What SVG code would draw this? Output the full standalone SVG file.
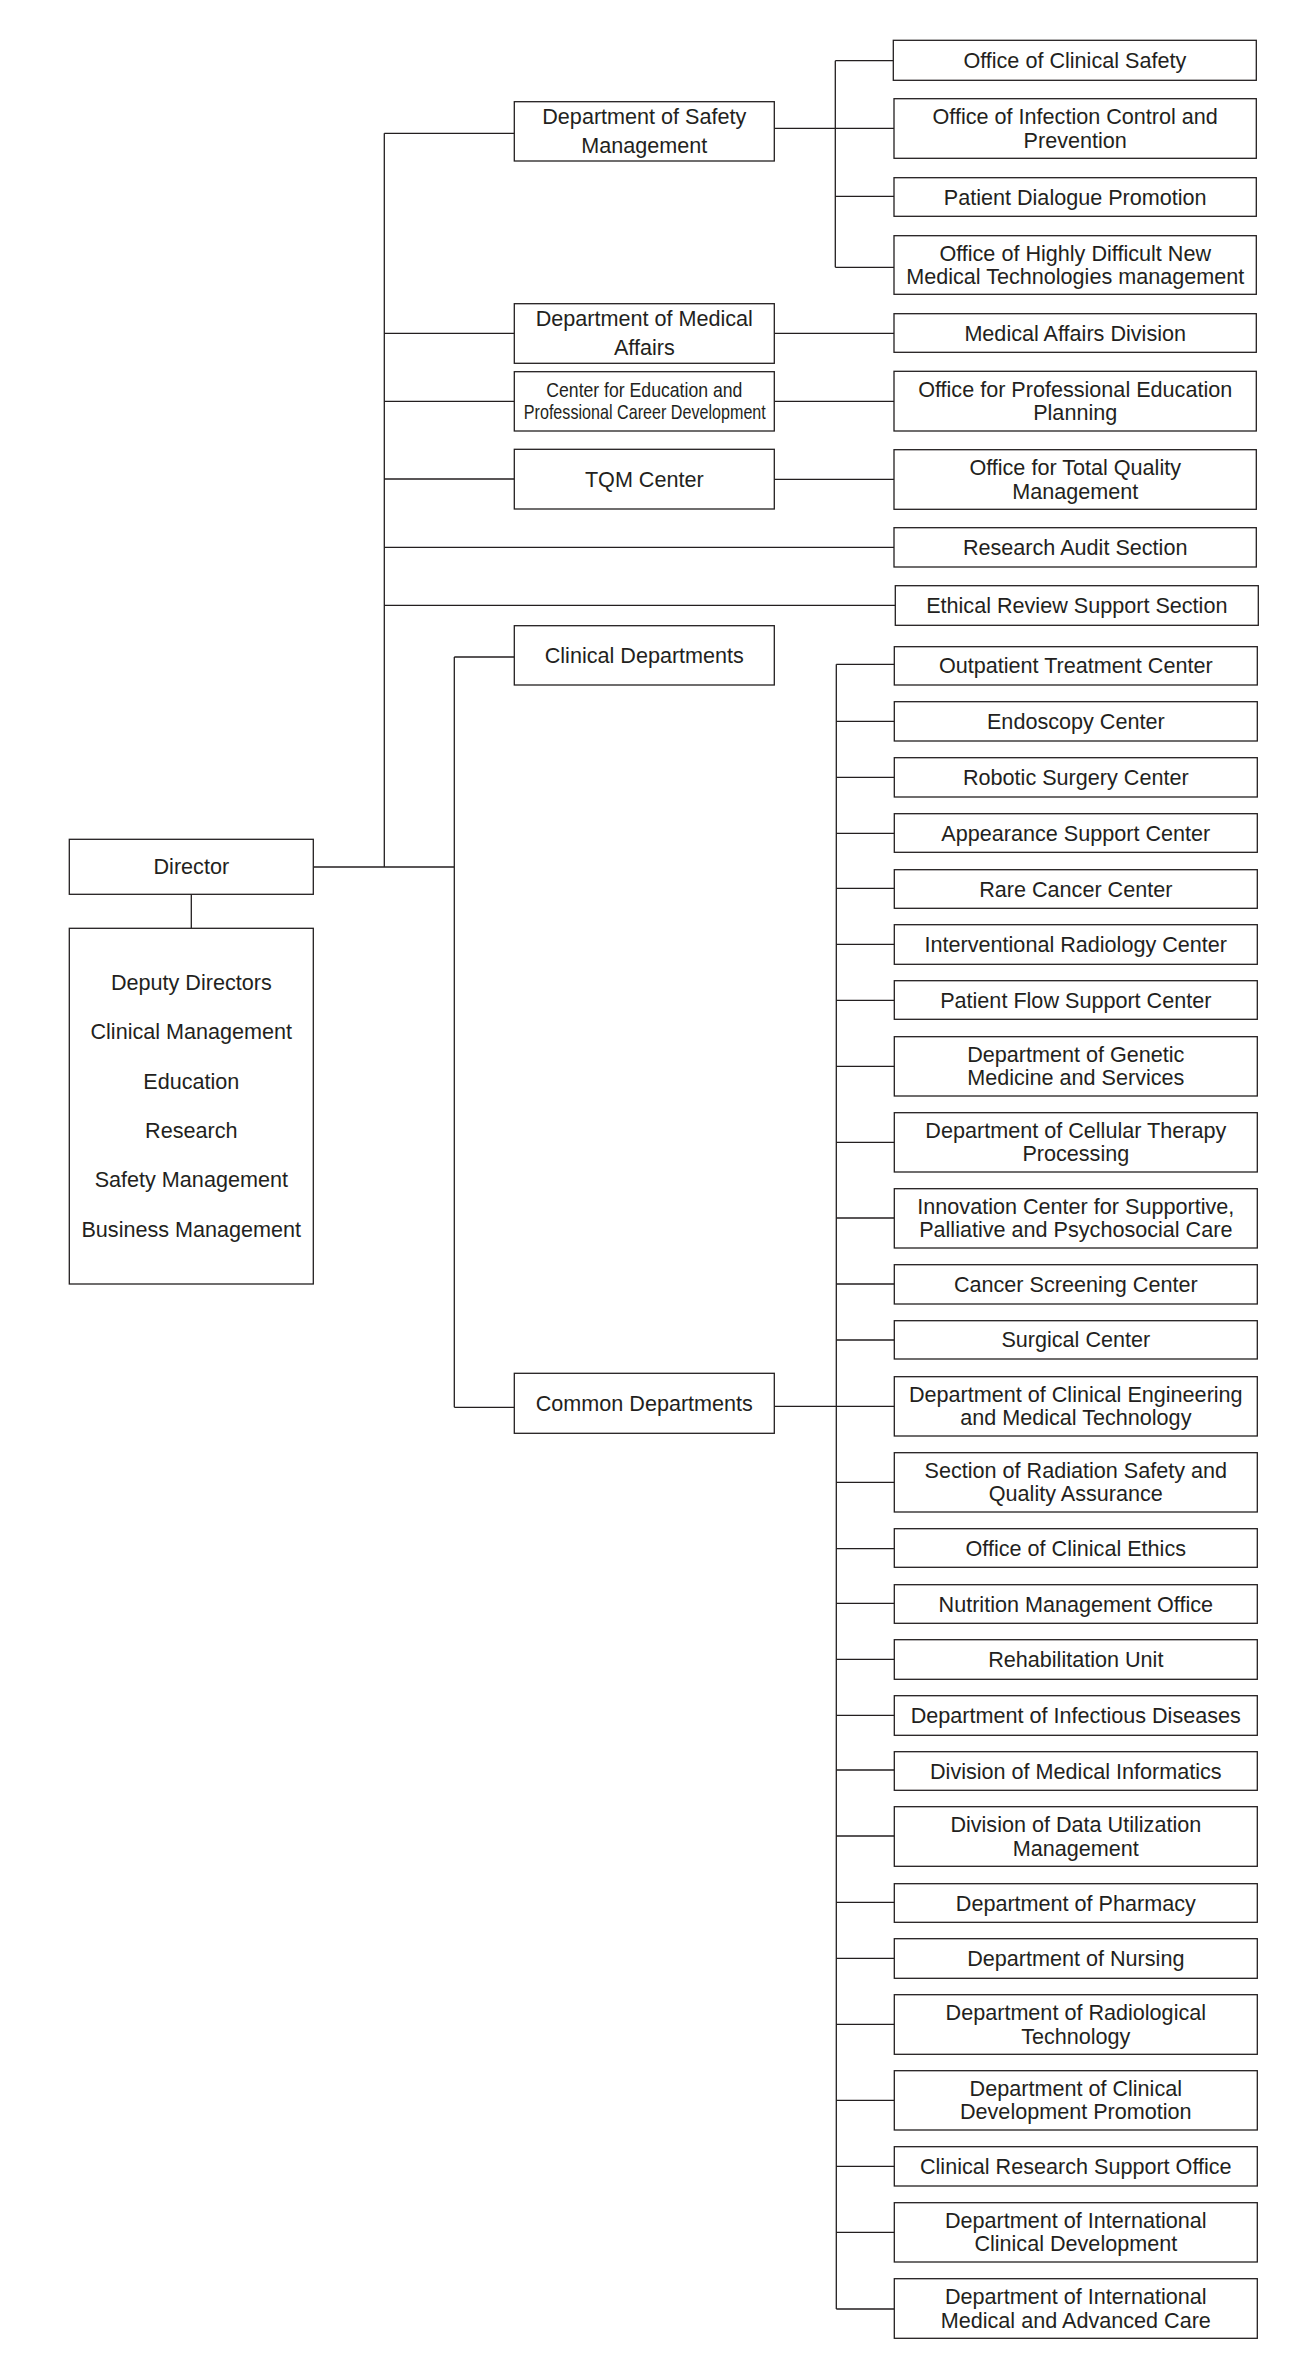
<svg xmlns="http://www.w3.org/2000/svg" width="1313" height="2375" viewBox="0 0 1313 2375">
<style>
.b{fill:#fff;stroke:#231f20;stroke-width:1.3}
.c{fill:none;stroke:#231f20;stroke-width:1.3}
text{font-family:"Liberation Sans",Arial,Helvetica,sans-serif;font-size:21.6px;fill:#231f20;text-anchor:middle}
.n{font-size:21px}
</style>
<rect width="1313" height="2375" fill="#fff"/>
<g id="connectors" class="c">
<path d="M384.3 133.3V867M384.3 133.3H514.3M384.3 333.3H514.3M384.3 401.3H514.3M384.3 479H514.3M384.3 547.3H894M384.3 605.3H895.3"/>
<path d="M313.3 867H454.3M454.3 657V1407.3M454.3 657H514.3M454.3 1407.3H514.3M191.3 894.3V928.3"/>
<path d="M774.3 128.3H835.3M835.3 60.7V267.3M835.3 60.7H893.3M835.3 128.3H894M835.3 196.3H894M835.3 267.3H894"/>
<path d="M774.3 333.3H894M774.3 401.3H894M774.3 479.3H894"/>
<path d="M774.3 1406.3H836.3M836.3 664.3V2309"/>
<path d="M836.3 664.3H894M836.3 721.3H894M836.3 777.3H894M836.3 833.3H894M836.3 888.3H894M836.3 944.3H894M836.3 1000.3H894M836.3 1066.3H894M836.3 1142.3H894M836.3 1218H894M836.3 1284H894M836.3 1340H894M836.3 1406.3H894M836.3 1482.3H894M836.3 1548.7H894M836.3 1603.3H894M836.3 1659.3H894M836.3 1715.3H894M836.3 1770H894M836.3 1836H894M836.3 1902.3H894M836.3 1958.3H894M836.3 2024.3H894M836.3 2100.3H894M836.3 2166.3H894M836.3 2232.3H894M836.3 2309H894"/>
</g>
<g id="director"><rect class="b" x="69.3" y="839.3" width="244" height="55"/><text x="191.3" y="874">Director</text></g>
<g id="deputy"><rect class="b" x="69.3" y="928.3" width="244" height="355.7"/>
<text x="191.3" y="990">Deputy Directors</text>
<text x="191.3" y="1039.3">Clinical Management</text>
<text x="191.3" y="1088.6">Education</text>
<text x="191.3" y="1137.9">Research</text>
<text x="191.3" y="1187.2">Safety Management</text>
<text x="191.3" y="1236.5">Business Management</text></g>
<g id="dept-safety"><rect class="b" x="514.3" y="101.7" width="260" height="59.3"/><text x="644.3" y="124.3">Department of Safety</text><text x="644.3" y="152.6">Management</text></g>
<g id="dept-medical"><rect class="b" x="514.3" y="303.7" width="260" height="59.6"/><text x="644.3" y="326.3">Department of Medical</text><text x="644.3" y="354.5">Affairs</text></g>
<g id="center-edu"><rect class="b" x="514.3" y="371.7" width="260" height="59.3"/><text class="n" x="644.3" y="396.7" textLength="196" lengthAdjust="spacingAndGlyphs">Center for Education and</text><text class="n" x="644.8" y="419.3" textLength="242" lengthAdjust="spacingAndGlyphs">Professional Career Development</text></g>
<g id="tqm"><rect class="b" x="514.3" y="449.3" width="260" height="59.7"/><text x="644.3" y="486.5">TQM Center</text></g>
<g id="clinical-depts"><rect class="b" x="514.3" y="625.7" width="260" height="59.3"/><text x="644.3" y="662.8">Clinical Departments</text></g>
<g id="common-depts"><rect class="b" x="514.3" y="1373.3" width="260" height="60"/><text x="644.3" y="1410.8">Common Departments</text></g>
<g id="r1"><rect class="b" x="893.3" y="40.3" width="363" height="40"/><text x="1074.8" y="67.8">Office of Clinical Safety</text></g>
<g id="r2"><rect class="b" x="894" y="98.7" width="362.3" height="59.6"/><text x="1075.2" y="124.2">Office of Infection Control and</text><text x="1075.2" y="147.5">Prevention</text></g>
<g id="r3"><rect class="b" x="894" y="177.7" width="362.3" height="38.6"/><text x="1075.2" y="204.5">Patient Dialogue Promotion</text></g>
<g id="r4"><rect class="b" x="894" y="235.7" width="362.3" height="58.6"/><text x="1075.2" y="260.7">Office of Highly Difficult New</text><text x="1075.2" y="284">Medical Technologies management</text></g>
<g id="r5"><rect class="b" x="894" y="313.7" width="362.3" height="38.6"/><text x="1075.2" y="340.5">Medical Affairs Division</text></g>
<g id="r6"><rect class="b" x="894" y="371.3" width="362.3" height="59.7"/><text x="1075.2" y="396.9">Office for Professional Education</text><text x="1075.2" y="420.2">Planning</text></g>
<g id="r7"><rect class="b" x="894" y="449.7" width="362.3" height="59.6"/><text x="1075.2" y="475.2">Office for Total Quality</text><text x="1075.2" y="498.5">Management</text></g>
<g id="r8"><rect class="b" x="894" y="527.7" width="362.3" height="39.3"/><text x="1075.2" y="554.8">Research Audit Section</text></g>
<g id="r9"><rect class="b" x="895.3" y="585.7" width="363" height="39.6"/><text x="1076.8" y="613">Ethical Review Support Section</text></g>
<g id="r10"><rect class="b" x="894.3" y="646.7" width="363" height="38.3"/><text x="1075.8" y="673.3">Outpatient Treatment Center</text></g>
<g id="r11"><rect class="b" x="894.3" y="701.7" width="363" height="39.3"/><text x="1075.8" y="728.8">Endoscopy Center</text></g>
<g id="r12"><rect class="b" x="894.3" y="757.7" width="363" height="39.3"/><text x="1075.8" y="784.8">Robotic Surgery Center</text></g>
<g id="r13"><rect class="b" x="894.3" y="813.7" width="363" height="38.6"/><text x="1075.8" y="840.5">Appearance Support Center</text></g>
<g id="r14"><rect class="b" x="894.3" y="869.7" width="363" height="38.6"/><text x="1075.8" y="896.5">Rare Cancer Center</text></g>
<g id="r15"><rect class="b" x="894.3" y="924.7" width="363" height="39.6"/><text x="1075.8" y="952">Interventional Radiology Center</text></g>
<g id="r16"><rect class="b" x="894.3" y="980.7" width="363" height="38.6"/><text x="1075.8" y="1007.5">Patient Flow Support Center</text></g>
<g id="r17"><rect class="b" x="894.3" y="1036.7" width="363" height="59.3"/><text x="1075.8" y="1062">Department of Genetic</text><text x="1075.8" y="1085.3">Medicine and Services</text></g>
<g id="r18"><rect class="b" x="894.3" y="1112.7" width="363" height="59.3"/><text x="1075.8" y="1138">Department of Cellular Therapy</text><text x="1075.8" y="1161.3">Processing</text></g>
<g id="r19"><rect class="b" x="894.3" y="1188.7" width="363" height="59.3"/><text x="1075.8" y="1214">Innovation Center for Supportive,</text><text x="1075.8" y="1237.3">Palliative and Psychosocial Care</text></g>
<g id="r20"><rect class="b" x="894.3" y="1264.7" width="363" height="39.3"/><text x="1075.8" y="1291.8">Cancer Screening Center</text></g>
<g id="r21"><rect class="b" x="894.3" y="1320.7" width="363" height="38.3"/><text x="1075.8" y="1347.3">Surgical Center</text></g>
<g id="r22"><rect class="b" x="894.3" y="1376.7" width="363" height="59.3"/><text x="1075.8" y="1402">Department of Clinical Engineering</text><text x="1075.8" y="1425.3">and Medical Technology</text></g>
<g id="r23"><rect class="b" x="894.3" y="1452.7" width="363" height="59.3"/><text x="1075.8" y="1478">Section of Radiation Safety and</text><text x="1075.8" y="1501.3">Quality Assurance</text></g>
<g id="r24"><rect class="b" x="894.3" y="1528.7" width="363" height="38.6"/><text x="1075.8" y="1555.5">Office of Clinical Ethics</text></g>
<g id="r25"><rect class="b" x="894.3" y="1584.7" width="363" height="38.6"/><text x="1075.8" y="1611.5">Nutrition Management Office</text></g>
<g id="r26"><rect class="b" x="894.3" y="1639.7" width="363" height="39.6"/><text x="1075.8" y="1667">Rehabilitation Unit</text></g>
<g id="r27"><rect class="b" x="894.3" y="1695.7" width="363" height="39.6"/><text x="1075.8" y="1723">Department of Infectious Diseases</text></g>
<g id="r28"><rect class="b" x="894.3" y="1751.7" width="363" height="38.6"/><text x="1075.8" y="1778.5">Division of Medical Informatics</text></g>
<g id="r29"><rect class="b" x="894.3" y="1806.7" width="363" height="59.6"/><text x="1075.8" y="1832.2">Division of Data Utilization</text><text x="1075.8" y="1855.5">Management</text></g>
<g id="r30"><rect class="b" x="894.3" y="1883.7" width="363" height="38.6"/><text x="1075.8" y="1910.5">Department of Pharmacy</text></g>
<g id="r31"><rect class="b" x="894.3" y="1938.7" width="363" height="39.6"/><text x="1075.8" y="1966">Department of Nursing</text></g>
<g id="r32"><rect class="b" x="894.3" y="1994.7" width="363" height="59.6"/><text x="1075.8" y="2020.2">Department of Radiological</text><text x="1075.8" y="2043.5">Technology</text></g>
<g id="r33"><rect class="b" x="894.3" y="2070.7" width="363" height="59.3"/><text x="1075.8" y="2096">Department of Clinical</text><text x="1075.8" y="2119.3">Development Promotion</text></g>
<g id="r34"><rect class="b" x="894.3" y="2146.7" width="363" height="39.3"/><text x="1075.8" y="2173.8">Clinical Research Support Office</text></g>
<g id="r35"><rect class="b" x="894.3" y="2202.7" width="363" height="59.3"/><text x="1075.8" y="2228">Department of International</text><text x="1075.8" y="2251.3">Clinical Development</text></g>
<g id="r36"><rect class="b" x="894.3" y="2278.7" width="363" height="59.6"/><text x="1075.8" y="2304.2">Department of International</text><text x="1075.8" y="2327.5">Medical and Advanced Care</text></g>
</svg>
